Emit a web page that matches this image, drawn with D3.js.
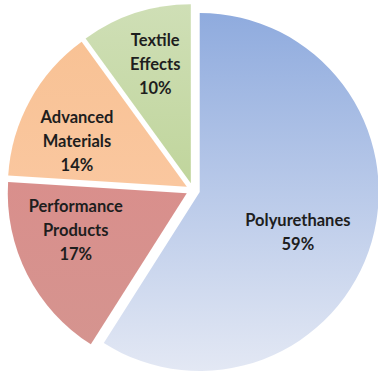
<!DOCTYPE html>
<html>
<head>
<meta charset="utf-8">
<script src="https://cdn.jsdelivr.net/npm/d3@7"></script>
<style>
html,body{margin:0;padding:0;background:#fff;}
svg{display:block;}
</style>
</head>
<body>
<svg id="chart" width="378" height="377"></svg>
<script>
const categories = ["Polyurethanes", "Performance Products", "Advanced Materials", "Textile Effects"];
const labelLines = [["Polyurethanes"], ["Performance", "Products"], ["Advanced", "Materials"], ["Textile", "Effects"]];
const values = [59, 17, 14, 10];
const colorsTop = ["#8fabde", "#d98f8c", "#f8c295", "#cfdfb6"];
const colorsBottom = ["#e3e8f4", "#d5948f", "#fac79f", "#c0d59c"];

const W = 378, H = 377;
const cx = 193, cy = 190, R = 179, explode = 7;
// label placement tweaks (style): angle nudge in degrees, radius
const labelNudgeDeg = [6, 8.6, -6.3, 1.3];
const labelRadius = [106, 117, 119, 124];

const svg = d3.select("#chart");
const defs = svg.append("defs");
categories.forEach((c, i) => {
  const g = defs.append("linearGradient").attr("id", "grad" + i)
    .attr("x1", 0).attr("y1", 0).attr("x2", 0).attr("y2", 1);
  g.append("stop").attr("offset", "0%").attr("stop-color", colorsTop[i]);
  g.append("stop").attr("offset", "100%").attr("stop-color", colorsBottom[i]);
});

const pie = d3.pie().sort(null).value(d => d);
const arcs = pie(values);
const arc = d3.arc().innerRadius(0).outerRadius(R);

const g = svg.append("g").attr("transform", `translate(${cx},${cy})`);

const slices = g.selectAll("g.slice").data(arcs).enter().append("g")
  .attr("class", "slice")
  .attr("transform", d => {
    const a = (d.startAngle + d.endAngle) / 2;
    return `translate(${Math.sin(a) * explode},${-Math.cos(a) * explode})`;
  });

slices.append("path")
  .attr("d", arc)
  .attr("fill", (d, i) => `url(#grad${i})`);

const fs = 16.5, lh = 24;
slices.each(function(d, i) {
  const a = (d.startAngle + d.endAngle) / 2 + labelNudgeDeg[i] * Math.PI / 180;
  const lr = labelRadius[i];
  const x = Math.sin(a) * lr, y = -Math.cos(a) * lr;
  const lines = labelLines[i].concat([d.value + "%"]);
  const t = d3.select(this).append("text")
    .attr("text-anchor", "middle")
    .attr("font-family", "Lato, 'Open Sans', sans-serif")
    .attr("font-weight", "bold")
    .attr("font-size", fs)
    .attr("fill", "#1e1e1e");
  const y0 = y - (lines.length - 1) * lh / 2;
  lines.forEach((ln, k) => {
    t.append("tspan").attr("x", x).attr("y", y0 + k * lh).attr("dy", "0.35em").text(ln);
  });
});
</script>
</body>
</html>
